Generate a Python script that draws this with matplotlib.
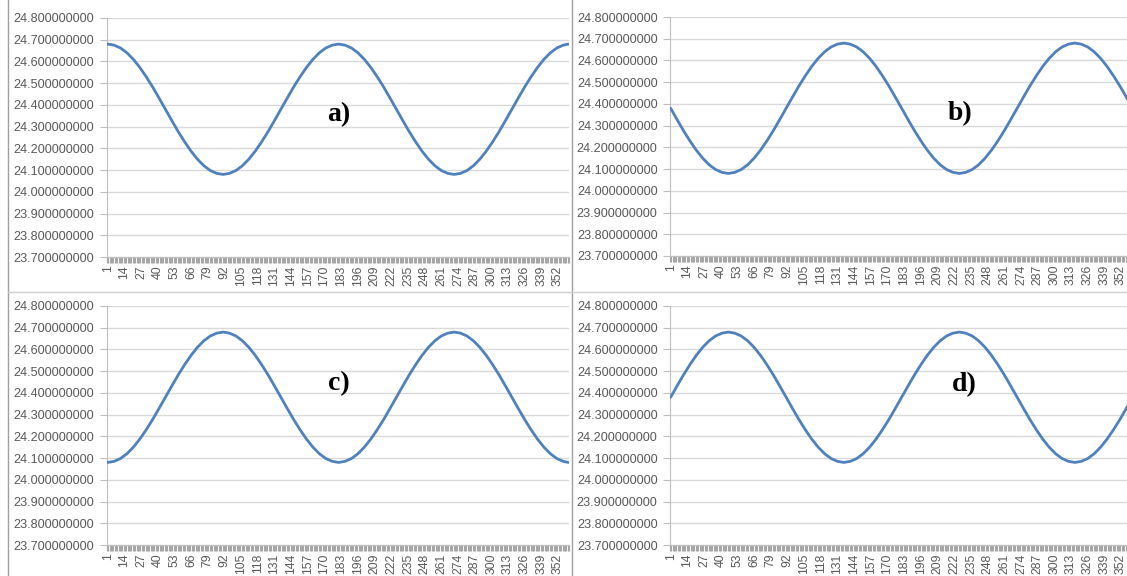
import numpy as np
import matplotlib
matplotlib.use("Agg")
import matplotlib.pyplot as plt
from matplotlib.lines import Line2D

# day index sampled every 5 days, plus the last day
days = list(range(1, 357, 5)) + [360]

series_a = [24.680, 24.675, 24.662, 24.640, 24.610, 24.573, 24.530, 24.483, 24.432,
            24.380, 24.328, 24.277, 24.230, 24.187, 24.150, 24.120, 24.098, 24.085,
            24.080, 24.085, 24.098, 24.120, 24.150, 24.187, 24.230, 24.277, 24.328,
            24.380, 24.432, 24.483, 24.530, 24.573, 24.610, 24.640, 24.662, 24.675,
            24.680, 24.675, 24.662, 24.640, 24.610, 24.573, 24.530, 24.483, 24.432,
            24.380, 24.328, 24.277, 24.230, 24.187, 24.150, 24.120, 24.098, 24.085,
            24.080, 24.085, 24.098, 24.120, 24.150, 24.187, 24.230, 24.277, 24.328,
            24.380, 24.432, 24.483, 24.530, 24.573, 24.610, 24.640, 24.662, 24.675,
            24.680]
series_b = [24.380, 24.328, 24.277, 24.230, 24.187, 24.150, 24.120, 24.098, 24.085,
            24.080, 24.085, 24.098, 24.120, 24.150, 24.187, 24.230, 24.277, 24.328,
            24.380, 24.432, 24.483, 24.530, 24.573, 24.610, 24.640, 24.662, 24.675,
            24.680, 24.675, 24.662, 24.640, 24.610, 24.573, 24.530, 24.483, 24.432,
            24.380, 24.328, 24.277, 24.230, 24.187, 24.150, 24.120, 24.098, 24.085,
            24.080, 24.085, 24.098, 24.120, 24.150, 24.187, 24.230, 24.277, 24.328,
            24.380, 24.432, 24.483, 24.530, 24.573, 24.610, 24.640, 24.662, 24.675,
            24.680, 24.675, 24.662, 24.640, 24.610, 24.573, 24.530, 24.483, 24.432,
            24.390]
series_c = [24.080, 24.085, 24.098, 24.120, 24.150, 24.187, 24.230, 24.277, 24.328,
            24.380, 24.432, 24.483, 24.530, 24.573, 24.610, 24.640, 24.662, 24.675,
            24.680, 24.675, 24.662, 24.640, 24.610, 24.573, 24.530, 24.483, 24.432,
            24.380, 24.328, 24.277, 24.230, 24.187, 24.150, 24.120, 24.098, 24.085,
            24.080, 24.085, 24.098, 24.120, 24.150, 24.187, 24.230, 24.277, 24.328,
            24.380, 24.432, 24.483, 24.530, 24.573, 24.610, 24.640, 24.662, 24.675,
            24.680, 24.675, 24.662, 24.640, 24.610, 24.573, 24.530, 24.483, 24.432,
            24.380, 24.328, 24.277, 24.230, 24.187, 24.150, 24.120, 24.098, 24.085,
            24.080]
series_d = [24.380, 24.432, 24.483, 24.530, 24.573, 24.610, 24.640, 24.662, 24.675,
            24.680, 24.675, 24.662, 24.640, 24.610, 24.573, 24.530, 24.483, 24.432,
            24.380, 24.328, 24.277, 24.230, 24.187, 24.150, 24.120, 24.098, 24.085,
            24.080, 24.085, 24.098, 24.120, 24.150, 24.187, 24.230, 24.277, 24.328,
            24.380, 24.432, 24.483, 24.530, 24.573, 24.610, 24.640, 24.662, 24.675,
            24.680, 24.675, 24.662, 24.640, 24.610, 24.573, 24.530, 24.483, 24.432,
            24.380, 24.328, 24.277, 24.230, 24.187, 24.150, 24.120, 24.098, 24.085,
            24.080, 24.085, 24.098, 24.120, 24.150, 24.187, 24.230, 24.277, 24.328,
            24.370]

panel_labels = ["a)", "b)", "c)", "d)"]
x_labels = list(range(1, 353, 13))
y_ticks = [23.7, 23.8, 23.9, 24.0, 24.1, 24.2, 24.3, 24.4, 24.5, 24.6, 24.7, 24.8]

W, H = 1127, 576
fig = plt.figure(figsize=(W / 100, H / 100), dpi=100)
fig.patch.set_facecolor("white")

# pixel boxes: left, right, top, bottom ; label centre
boxes = [
    (107, 569, 18, 257, (339, 115)),
    (670, 1132, 17, 256, (960, 114)),
    (107, 569, 306, 545, (339, 384)),
    (670, 1132, 306, 545, (964, 385)),
]
all_series = [series_a, series_b, series_c, series_d]

label_col = "#595959"
grid_col = "#D9D9D9"
axis_col = "#BFBFBF"

for (l, r, t, b, (lx, ly)), ser, lab in zip(boxes, all_series, panel_labels):
    ax = fig.add_axes([l / W, 1 - b / H, (r - l) / W, (b - t) / H])
    ax.plot(days, ser, color="#4F81BD", linewidth=2.0, solid_capstyle="round",
            solid_joinstyle="round", zorder=3)
    ax.set_xlim(0.5, 360.5)
    ax.set_ylim(23.7, 24.8)
    ax.set_yticks(y_ticks)
    ax.set_yticklabels([f"{v:.9f}" for v in y_ticks], fontsize=9.1,
                       family="Liberation Sans", color=label_col)
    ax.set_xticks(x_labels)
    ax.set_xticklabels([str(v) for v in x_labels], rotation=90, fontsize=8.8,
                       family="Liberation Sans", color=label_col)
    ax.set_xticks(np.arange(0.5, 361, 1), minor=True)
    ax.tick_params(axis="x", which="major", length=0, pad=6)
    ax.tick_params(axis="x", which="minor", length=4, width=0.8, color="#A6A6A6")
    ax.tick_params(axis="y", length=5, width=0.8, color=axis_col, pad=4)
    ax.grid(axis="y", color=grid_col, linewidth=1.0, zorder=0)
    for side in ["top", "right"]:
        ax.spines[side].set_visible(False)
    ax.spines["left"].set_color(axis_col)
    ax.spines["bottom"].set_color(axis_col)
    ax.set_facecolor("none")
    fig.text(lx / W, 1 - ly / H, lab, family="Liberation Serif", fontweight="bold",
             fontsize=20, ha="center", va="center", color="black")

# chart-area borders between the panels
sep_col = "#A0A0A0"
fig.add_artist(Line2D([8 / W, 8 / W], [0, 1], color=sep_col, linewidth=1.0))
fig.add_artist(Line2D([571.5 / W, 571.5 / W], [0, 1], color=sep_col, linewidth=1.0))
fig.add_artist(Line2D([8 / W, 1], [1 - 292 / H, 1 - 292 / H], color="#D0D0D0", linewidth=1.0))

fig.savefig("out.png", dpi=100, facecolor="white")
